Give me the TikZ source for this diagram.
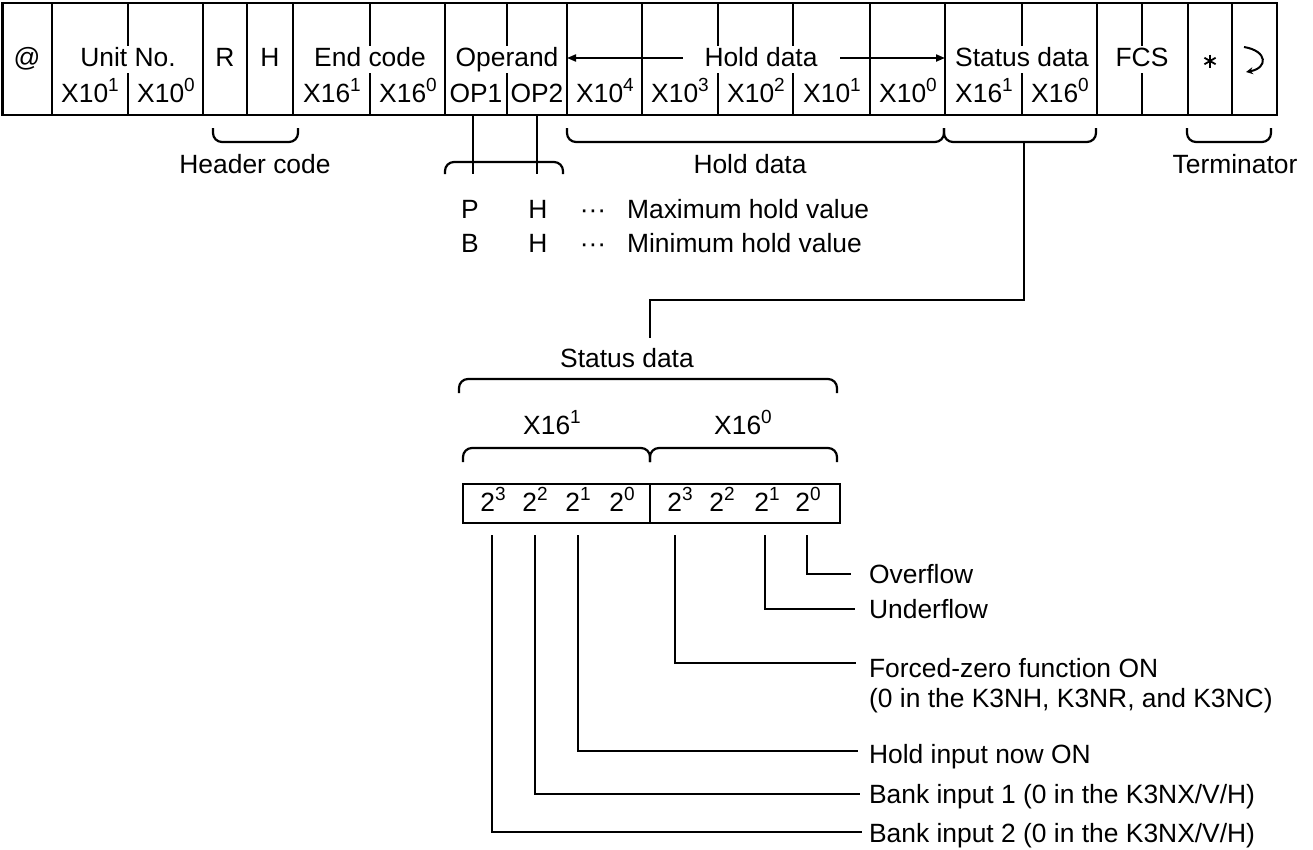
\documentclass[tikz,border=0pt]{standalone}
\usepackage{fontspec}
\setmainfont{Liberation Sans}
\usetikzlibrary{arrows.meta}
\newcommand\supx[1]{\raisebox{0.40em}{\fontsize{19}{19}\selectfont #1}}
\begin{document}
\begin{tikzpicture}[x=1pt,y=-1pt,line width=2.2pt,
  font=\fontsize{26.4}{30}\selectfont,
  cell/.style={fill=white,inner xsep=2pt,inner ysep=1.5pt,text height=18.5pt,text depth=5pt,anchor=base},
  sub/.style={inner sep=0pt,anchor=base},
  lbl/.style={inner sep=0pt,anchor=base},
  lblw/.style={inner sep=0pt,anchor=base west},
  brace/.style={rounded corners=9pt},
  tip/.style={-{Triangle[length=9pt,width=7pt]}}]
\useasboundingbox (0,0) rectangle (1313,849);

% ---- frame table ----
\draw[line width=2.6pt] (2.5,3) rectangle (1277,115);
\foreach \x in {52,128,203,247,293,370,445,507,567,642,718,793,870,945,1022,1097,1142,1188,1232}
  \draw (\x,3) -- (\x,115);

% hold data arrow
\coordinate (hL) at (567,58);
\coordinate (hR) at (945,58);
\coordinate (hM) at (761,58);
\draw[line width=2pt,tip] (hM) -- (hL);
\draw[line width=2pt,tip] (hM) -- (hR);

% upper row
\node[cell] (at) at (27,66) {@};
\node[cell] (unit) at (128,66) {Unit No.};
\node[cell] (R) at (225,66) {R};
\node[cell] (Hh) at (270,66) {H};
\node[cell] (end) at (370,66) {End code};
\node[cell] (opd) at (507,66) {Operand};
\node[cell,inner xsep=22pt] (hold) at (761,66) {Hold data};
\node[cell] (stat) at (1022,66) {Status data};
\node[cell] (fcs) at (1142,66) {FCS};
% asterisk
\coordinate (ast) at (1210,61);
\draw[line width=1.8pt] ([shift={(0,-6.5)}]ast) -- ([shift={(0,6.5)}]ast);
\draw[line width=1.8pt] ([shift={(-5.6,-3.25)}]ast) -- ([shift={(5.6,3.25)}]ast);
\draw[line width=1.8pt] ([shift={(-5.6,3.25)}]ast) -- ([shift={(5.6,-3.25)}]ast);
% return symbol
\draw[line width=2pt,-{Stealth[length=7pt,width=7pt]}] (1244,47) .. controls (1268,51) and (1268,68) .. (1246,72);

% lower row
\node[sub] (u1) at (90,102) {X10\supx{1}};
\node[sub] (u0) at (166,102) {X10\supx{0}};
\node[sub] (e1) at (332,102) {X16\supx{1}};
\node[sub] (e0) at (408,102) {X16\supx{0}};
\node[sub] (op1) at (476,102) {OP1};
\node[sub] (op2) at (537,102) {OP2};
\node[sub] (d4) at (605,102) {X10\supx{4}};
\node[sub] (d3) at (680,102) {X10\supx{3}};
\node[sub] (d2) at (756,102) {X10\supx{2}};
\node[sub] (d1) at (832,102) {X10\supx{1}};
\node[sub] (d0) at (908,102) {X10\supx{0}};
\node[sub] (s1) at (984,102) {X16\supx{1}};
\node[sub] (s0) at (1060,102) {X16\supx{0}};

% ---- braces under the frame ----
\draw[brace] (213,128) -- (213,142) -- (298,142) -- (298,128);
\node[lbl] (hdr) at (255,173) {Header code};

\coordinate (o1t) at (473,115); \coordinate (o1b) at (473,174);
\coordinate (o2t) at (537,115); \coordinate (o2b) at (537,174);
\draw (o1t) -- (o1b);
\draw (o2t) -- (o2b);
\draw[brace] (445,174) -- (445,162) -- (563,162) -- (563,174);

\draw[brace] (567,128) -- (567,142) -- (944,142) -- (944,128);
\draw[brace] (944,128) -- (944,142) -- (1096,142) -- (1096,128);
\node[lbl] (hdl) at (750,173) {Hold data};

\draw[brace] (1187,128) -- (1187,142) -- (1271,142) -- (1271,128);
\node[lbl] (term) at (1235,173) {Terminator};

\node[lbl] (P) at (470,218) {P};
\node[lbl] (H1) at (538,218) {H};
\node[lbl] (dt1) at (593,218) {···};
\node[lblw] (max) at (626,218) {Maximum hold value};
\node[lbl] (B) at (470,252) {B};
\node[lbl] (H2) at (538,252) {H};
\node[lbl] (dt2) at (593,252) {···};
\node[lblw] (min) at (626,252) {Minimum hold value};

% ---- status data detail ----
\coordinate (sc1) at (1024,142);
\coordinate (sc2) at (650,338);
\draw (sc1) |- (650,300) -- (sc2);
\node[lbl] (sdl) at (627,367) {Status data};
\draw[brace] (459,393) -- (459,379) -- (837,379) -- (837,393);
\node[lbl] (x1) at (552,434) {X16\supx{1}};
\node[lbl] (x0) at (743,434) {X16\supx{0}};
\draw[brace] (463,462) -- (463,448) -- (650,448) -- (650,462);
\draw[brace] (650,462) -- (650,448) -- (837,448) -- (837,462);

\draw (463,484) rectangle (840,523);
\draw (650,484) -- (650,523);
\foreach \x/\e/\n in {493/3/a3,535/2/a2,578/1/a1,622/0/a0,680/3/b3,722/2/b2,767/1/b1,808/0/b0}
  \node[lbl] (\n) at (\x,511) {2\supx{\e}};

% bit lines
\coordinate (t0) at (807,535); \coordinate (e0) at (851,574);
\coordinate (t1) at (765,535); \coordinate (e1) at (855,609);
\coordinate (t3) at (675,535); \coordinate (e3) at (856,663);
\coordinate (t5) at (578,535); \coordinate (e5) at (858,751);
\coordinate (t6) at (535,535); \coordinate (e6) at (860,794);
\coordinate (t7) at (492,535); \coordinate (e7) at (862,832);
\foreach \i in {0,1,3,5,6,7} \draw (t\i) |- (e\i);

\node[lblw] (ovf) at (868,583) {Overflow};
\node[lblw] (unf) at (868,618) {Underflow};
\node[lblw] (fz1) at (868,677) {Forced-zero function ON};
\node[lblw] (fz2) at (868,707) {(0 in the K3NH, K3NR, and K3NC)};
\node[lblw] (hin) at (868,763) {Hold input now ON};
\node[lblw] (bk1) at (868,803) {Bank input 1 (0 in the K3NX/V/H)};
\node[lblw] (bk2) at (868,842) {Bank input 2 (0 in the K3NX/V/H)};
\end{tikzpicture}
\end{document}
